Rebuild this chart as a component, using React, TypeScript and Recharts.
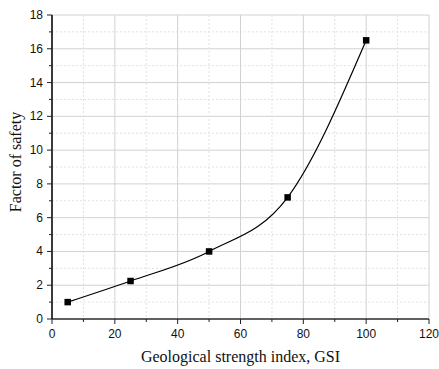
import { ComposedChart, Line, XAxis, YAxis, CartesianGrid } from 'recharts';

// Factor of safety vs GSI
const gsi = [5, 25, 50, 75, 100];
const factorOfSafety = [1.0, 2.25, 4.0, 7.2, 16.5];

const xMajorTicks = [0, 20, 40, 60, 80, 100, 120];
const xMinorTicks = [10, 30, 50, 70, 90, 110];
const yMajorTicks = [0, 2, 4, 6, 8, 10, 12, 14, 16, 18];
const yMinorTicks = [1, 3, 5, 7, 9, 11, 13, 15, 17];

const xTitle = 'Geological strength index, GSI';
const yTitle = 'Factor of safety';

const data = gsi.map((g, i) => ({ gsi: g, fos: factorOfSafety[i] }));
const xTicks = [...xMajorTicks, ...xMinorTicks].sort((a, b) => a - b);
const yTicks = [...yMajorTicks, ...yMinorTicks].sort((a, b) => a - b);

const tickFont = '"Liberation Sans", Arial, sans-serif';
const titleFont = '"Liberation Serif", "Times New Roman", serif';

const XTick = (props: any) => {
    const { x, y, payload } = props;
    const major = xMajorTicks.includes(payload.value);
    return (
        <g>
            <line x1={x} y1={y} x2={x} y2={y + (major ? 5 : 3)} stroke="#222" strokeWidth={1} />
            {major && (
                <text x={x} y={y + 19} textAnchor="middle" fontSize={12} fontFamily={tickFont} fill="#111">
                    {payload.value}
                </text>
            )}
        </g>
    );
};

const YTick = (props: any) => {
    const { x, y, payload } = props;
    const major = yMajorTicks.includes(payload.value);
    return (
        <g>
            <line x1={x - (major ? 5 : 3)} y1={y} x2={x} y2={y} stroke="#222" strokeWidth={1} />
            {major && (
                <text x={x - 9} y={y + 4} textAnchor="end" fontSize={12} fontFamily={tickFont} fill="#111">
                    {payload.value}
                </text>
            )}
        </g>
    );
};

const gridLine = (props: any) => {
    const { x1, y1, x2, y2, index } = props;
    const major = index % 2 === 0;
    return (
        <line
            key={props.key}
            x1={x1}
            y1={y1}
            x2={x2}
            y2={y2}
            stroke={major ? '#d2d2d2' : '#e2e2e2'}
            strokeWidth={1}
            strokeDasharray={major ? undefined : '2 2'}
        />
    );
};

const SquareDot = (props: any) => {
    const { cx, cy } = props;
    if (cx == null || cy == null) return null;
    return <rect x={cx - 3.25} y={cy - 3.25} width={6.5} height={6.5} fill="#000" />;
};

export default function App() {
    return (
        <div style={{ position: 'absolute', left: 0, top: 0, width: 439, height: 369, background: '#fff' }}>
            <ComposedChart width={439} height={369} data={data} margin={{ top: 15, right: 10, bottom: 0, left: 0 }}>
                <CartesianGrid horizontal={gridLine} vertical={gridLine} />

                <XAxis
                    dataKey="gsi"
                    type="number"
                    domain={[0, 120]}
                    ticks={xTicks}
                    interval={0}
                    height={50}
                    tickLine={false}
                    tickSize={0}
                    tickMargin={0}
                    tick={<XTick />}
                    axisLine={{ stroke: '#333', strokeWidth: 1.5 }}
                    label={{
                        content: (p: any) => {
                            const vb = p.viewBox;
                            return (
                                <text
                                    x={vb.x + vb.width / 2}
                                    y={vb.y + 43}
                                    textAnchor="middle"
                                    fontSize={16}
                                    fontFamily={titleFont}
                                    fill="#111"
                                >
                                    {xTitle}
                                </text>
                            );
                        },
                    }}
                />
                <XAxis
                    xAxisId="top"
                    orientation="top"
                    type="number"
                    domain={[0, 120]}
                    height={0}
                    tick={false}
                    tickLine={false}
                    axisLine={{ stroke: '#a8a8a8', strokeWidth: 1.5 }}
                />

                <YAxis
                    type="number"
                    domain={[0, 18]}
                    ticks={yTicks}
                    interval={0}
                    width={52}
                    tickLine={false}
                    tickSize={0}
                    tickMargin={0}
                    tick={<YTick />}
                    axisLine={{ stroke: '#000', strokeWidth: 1.5 }}
                    label={{
                        content: (p: any) => {
                            const vb = p.viewBox;
                            const cx = 21;
                            const cy = vb.y + vb.height / 2 - 5;
                            return (
                                <text
                                    x={cx}
                                    y={cy}
                                    transform={`rotate(-90, ${cx}, ${cy})`}
                                    textAnchor="middle"
                                    fontSize={16}
                                    fontFamily={titleFont}
                                    fill="#111"
                                >
                                    {yTitle}
                                </text>
                            );
                        },
                    }}
                />
                <YAxis
                    yAxisId="right"
                    orientation="right"
                    type="number"
                    domain={[0, 18]}
                    width={0}
                    tick={false}
                    tickLine={false}
                    axisLine={{ stroke: '#444', strokeWidth: 1.5 }}
                />

                <Line
                    type="monotone"
                    dataKey="fos"
                    stroke="#000"
                    strokeWidth={1.2}
                    dot={<SquareDot />}
                    activeDot={false}
                    isAnimationActive={false}
                />
            </ComposedChart>
        </div>
    );
}
